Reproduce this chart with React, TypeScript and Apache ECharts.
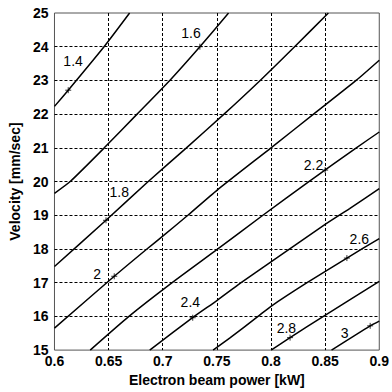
import React, { useEffect, useRef } from "react";
import * as echarts from "echarts";

// Contour levels and their traced points [power kW, velocity mm/sec]
const levels = ["1.4", "1.6", "1.8", "2", "2.2", "2.4", "2.6", "2.8", "3"];

const contour14 = [[0.6, 22.23], [0.6127, 22.71], [0.6458, 24], [0.6694, 25]];
const contour16 = [[0.6, 19.65], [0.6145, 20], [0.646, 21], [0.6763, 22], [0.7065, 23], [0.7343, 24], [0.7608, 25]];
const contour18 = [[0.6, 17.48], [0.6476, 18.85], [0.6866, 20], [0.7219, 21], [0.7566, 22], [0.79, 23], [0.8218, 24], [0.853, 25]];
const contour20 = [[0.6, 15.65], [0.6552, 17.19], [0.6854, 18], [0.7, 18.38], [0.7232, 19], [0.75, 19.74], [0.8, 21], [0.8393, 22], [0.8786, 23], [0.9, 23.6]];
const contour22 = [[0.633, 15], [0.6688, 16], [0.7087, 17], [0.7509, 18], [0.7925, 19], [0.835, 20], [0.8788, 21], [0.9, 21.47]];
const contour24 = [[0.688, 15], [0.7291, 16], [0.75, 16.47], [0.7714, 16.98], [0.8, 17.62], [0.85, 18.73], [0.8726, 19.2], [0.9, 19.79]];
const contour26 = [[0.7465, 15], [0.7624, 15.37], [0.788, 16], [0.8, 16.3], [0.8333, 17], [0.8701, 17.73], [0.9, 18.31]];
const contour28 = [[0.8001, 15], [0.8176, 15.37], [0.8484, 16], [0.9, 17.04]];
const contour30 = [[0.8559, 15], [0.8916, 15.72], [0.9, 15.86]];

const contours = [contour14, contour16, contour18, contour20, contour22, contour24, contour26, contour28, contour30];

// "+" markers on the contour lines where labels belong
const markerPoints = [[0.6127, 22.71], [0.7343, 24.0], [0.6476, 18.85], [0.6552, 17.19], [0.85, 20.34], [0.7277, 15.96], [0.8701, 17.73], [0.8176, 15.37], [0.8916, 15.72]];
// label anchors (data coordinates)
const labelAnchors = [[0.6172, 23.58], [0.7261, 24.42], [0.6598, 19.69], [0.6395, 17.25], [0.8393, 20.49], [0.7255, 16.42], [0.8816, 18.31], [0.8142, 15.67], [0.868, 15.52]];

const xMin = 0.6, xMax = 0.9, xStep = 0.05;
const yMin = 15, yMax = 25, yStep = 1;

const FONT = "'Liberation Sans', Arial, sans-serif";

export default function App() {
  const ref = useRef<HTMLDivElement>(null);
  useEffect(() => {
    if (!ref.current) return;
    const chart = echarts.init(ref.current, undefined, { renderer: "svg" });
    const series: any[] = contours.map((pts, i) => ({
      type: "line",
      name: levels[i],
      data: pts,
      showSymbol: false,
      symbol: "none",
      smooth: 0.2,
      lineStyle: { color: "#000", width: 1.5 },
      silent: true,
      z: 3,
    }));
    series.push({
      type: "scatter",
      data: markerPoints,
      symbol: "path://M5,0L5,10M0,5L10,5",
      symbolSize: 6,
      itemStyle: { color: "none", borderColor: "#000", borderWidth: 1 },
      silent: true,
      z: 4,
    });
    series.push({
      type: "scatter",
      data: labelAnchors.map((p, i) => ({ value: p, name: levels[i] })),
      symbol: "circle",
      symbolSize: 1,
      itemStyle: { color: "#fff", opacity: 0 },
      label: {
        show: true,
        position: "inside",
        formatter: (p: any) => p.name,
        fontFamily: FONT,
        fontSize: 14,
        color: "#000",
        opacity: 1,
        textBorderWidth: 0,
        align: "center",
        verticalAlign: "middle",
      },
      silent: true,
      z: 5,
    });
    chart.setOption({
      animation: false,
      backgroundColor: "#fff",
      grid: {
        left: 51,
        top: 13,
        width: 331,
        height: 340,
        show: true,
        borderColor: "#555",
        borderWidth: 1,
        backgroundColor: "#fff",
      },
      xAxis: {
        type: "value",
        min: xMin,
        max: xMax,
        interval: xStep,
        name: "Electron beam power [kW]",
        nameLocation: "middle",
        nameGap: 22,
        nameTextStyle: { fontFamily: FONT, fontSize: 14, fontWeight: "bold", color: "#000" },
        axisLine: { show: false },
        axisTick: { show: false },
        axisLabel: {
          margin: 4,
          fontFamily: FONT,
          fontSize: 14,
          fontWeight: "bold",
          color: "#000",
          formatter: (v: number) => String(+v.toFixed(2)),
        },
        splitLine: {
          show: true,
          showMinLine: false,
          showMaxLine: false,
          lineStyle: { color: "#000", width: 1, type: [3, 2] },
        },
      },
      yAxis: {
        type: "value",
        min: yMin,
        max: yMax,
        interval: yStep,
        name: "Velocity [mm/sec]",
        nameLocation: "middle",
        nameGap: 28,
        nameTextStyle: { fontFamily: FONT, fontSize: 14, fontWeight: "bold", color: "#000" },
        axisLine: { show: false },
        axisTick: { show: false },
        axisLabel: {
          margin: 6,
          fontFamily: FONT,
          fontSize: 14,
          fontWeight: "bold",
          color: "#000",
        },
        splitLine: {
          show: true,
          showMinLine: false,
          showMaxLine: false,
          lineStyle: { color: "#000", width: 1, type: [3, 2] },
        },
      },
      series,
    });
    return () => chart.dispose();
  }, []);
  return (
    <div
      ref={ref}
      style={{ position: "fixed", left: 0, top: 0, width: 392, height: 392, background: "#fff" }}
    />
  );
}
